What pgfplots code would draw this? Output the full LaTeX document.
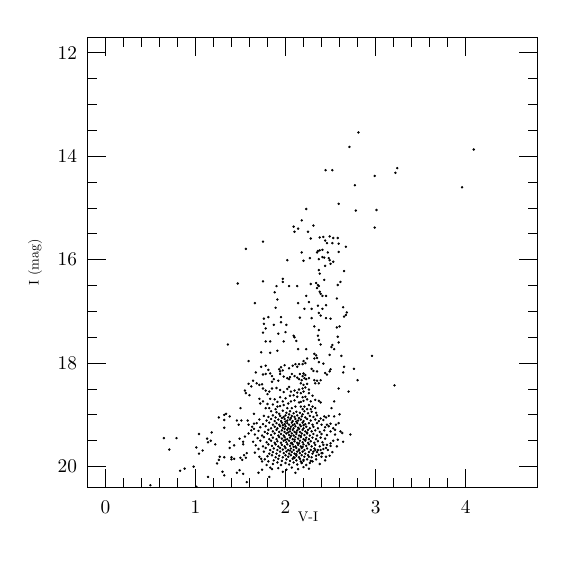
\documentclass[border=0pt]{standalone}
\usepackage{graphicx}
\usepackage{pgfplots}
\pgfplotsset{compat=1.18}
\begin{document}
\begin{tikzpicture}
\path[use as bounding box] (0,0) rectangle (431.25pt,431.25pt);
\begin{axis}[
  at={(65.5pt,65.8pt)}, anchor=south west,
  scale only axis, width=337.8pt, height=337.5pt,
  xmin=-0.2, xmax=4.8, ymin=11.7, ymax=20.4, y dir=reverse,
  xtick={0,1,2,3,4}, ytick={12,14,16,18,20},
  minor x tick num=4, minor y tick num=3,
  tick align=inside, xtick pos=both, ytick pos=both,
  major tick length=13.9pt, minor tick length=7pt,
  axis line style={line width=0.6pt},
  every tick/.style={line width=0.6pt, black},
  tick label style={font=\fontsize{10}{12}\selectfont},
  xticklabel={\scalebox{1.45}{$\pgfmathprintnumber{\tick}$}},
  yticklabel={\scalebox{1.45}{$\pgfmathprintnumber{\tick}$}},
  xticklabel style={yshift=-6.5pt},
  yticklabel style={xshift=-4.2pt},
  xlabel={V-I}, ylabel={I (mag)},
  label style={font=\fontsize{10.5}{12}\selectfont},
  xlabel style={at={(axis description cs:0.49,-0.0444)}, anchor=north},
  ylabel style={at={(axis description cs:-0.090,0.5)}, anchor=south},
]
\addplot[only marks, mark=*, mark size=0.7pt, black] coordinates {
(2.81,13.54) (2.71,13.82) (4.09,13.87) (2.445,14.27) (2.52,14.27) (3.24,14.23) (3.22,14.32) (2.99,14.38) (2.77,14.56) (3.96,14.60)
(2.59,14.92) (2.78,15.05) (3.01,15.04) (2.23,15.02) (2.18,15.24) (2.31,15.34) (2.09,15.36) (2.14,15.40) (2.10,15.46) (2.25,15.46) (2.99,15.38)
(2.28,15.59) (2.38,15.57) (2.42,15.56) (2.49,15.55) (2.53,15.58) (2.58,15.58) (2.44,15.63) (2.46,15.68) (2.52,15.68) (2.59,15.69) (2.67,15.75) (1.75,15.65) (1.56,15.79)
(2.18,15.86) (2.35,15.86) (2.38,15.82) (2.41,15.81) (2.36,15.83) (2.47,15.86) (2.59,15.85) (2.27,15.97) (2.37,15.99) (2.41,15.95) (2.43,15.96) (2.48,15.97) (2.49,16.01) (2.53,16.04) (2.50,16.08) (2.44,16.12) (2.20,16.02) (2.02,16.01)
(2.37,16.20) (2.38,16.27) (2.65,16.22) (2.43,16.39) (2.61,16.43) (2.58,16.49) (1.97,16.37) (1.97,16.43) (1.90,16.51) (2.04,16.51) (2.13,16.51) (2.28,16.47) (2.34,16.45) (2.36,16.49) (2.37,16.51) (2.35,16.55) (2.38,16.62) (2.39,16.66) (1.75,16.42) (1.47,16.46)
(1.88,16.63) (1.91,16.77) (2.23,16.70) (2.41,16.70) (2.45,16.70) (2.57,16.75) (1.66,16.84) (2.14,16.84) (2.26,16.82) (2.45,16.88) (1.89,16.93) (2.21,16.95) (2.29,16.95) (2.36,16.89) (2.41,16.95) (2.64,16.92) (2.68,17.02) (2.67,17.07) (2.65,17.10)
(2.37,17.03) (2.39,17.08) (2.45,17.13) (2.50,17.14) (2.29,17.13) (2.16,17.12)
(1.95,17.11) (1.81,17.11) (1.76,17.14) (1.76,17.24) (1.95,17.21) (2.01,17.26) (1.87,17.26) (1.78,17.33) (1.75,17.41) (1.92,17.43) (2.00,17.40) (2.09,17.47) (2.10,17.50) (2.12,17.57) (1.78,17.58) (1.83,17.58) (1.98,17.58)
(2.32,17.29) (2.37,17.36) (2.36,17.47) (2.37,17.55) (2.39,17.64) (2.52,17.65) (2.51,17.69) (2.57,17.31) (2.60,17.29) (2.58,17.49) (2.59,17.60) (2.14,17.73) (2.23,17.73)
(2.96,17.86) (2.76,18.11) (2.80,18.33) (3.21,18.43) (1.36,17.64)
(1.73,17.79) (1.83,17.80) (1.91,17.76) (1.59,17.96) (1.78,18.05) (1.73,18.07) (1.67,18.18) (1.95,18.08) (1.99,18.04) (2.04,18.10) (2.08,18.05) (2.11,18.02) (2.15,18.02) (2.13,18.07) (1.93,18.12) (1.94,18.16) (1.97,18.14) (1.94,18.21) (1.81,18.13) (1.83,18.20) (1.85,18.25) (1.78,18.21) (1.75,18.22) (1.87,18.31) (1.85,18.36) (1.92,18.34) (1.64,18.34) (1.59,18.40) (1.68,18.39) (1.71,18.42) (1.74,18.41) (1.98,18.26) (2.02,18.29) (2.04,18.31) (2.07,18.21) (2.05,18.27) (2.10,18.25) (2.13,18.28) (2.16,18.21) (2.15,18.31) (1.55,18.53) (1.56,18.58) (1.60,18.62) (1.75,18.49) (1.78,18.53) (1.82,18.55) (1.80,18.60) (1.85,18.49) (1.90,18.48) (1.62,18.45)
(1.94,18.52) (1.98,18.56) (2.02,18.50) (2.04,18.46) (2.06,18.55) (2.10,18.53) (2.13,18.57) (2.15,18.51) (2.09,18.62) (2.13,18.65) (2.05,18.63) (2.00,18.68) (1.94,18.66) (1.97,18.74) (1.91,18.75) (1.88,18.70) (1.83,18.69) (1.86,18.80) (1.80,18.79) (1.75,18.74) (1.72,18.78) (1.78,18.87) (1.82,18.87) (1.91,18.84) (1.94,18.83) (1.98,18.81) (2.03,18.78) (2.06,18.74) (2.10,18.72) (2.15,18.76) (2.17,18.84) (2.11,18.84) (2.07,18.87) (2.02,18.87) (1.89,18.89) (1.71,18.69) (1.50,18.87)
(2.54,17.73) (2.32,17.82) (2.34,17.85) (2.32,17.91) (2.35,17.90) (2.49,17.84) (2.62,17.86) (2.24,17.91) (2.20,17.96) (2.22,18.00) (2.19,18.02) (2.37,17.98) (2.42,18.01) (2.29,18.11) (2.35,18.16) (2.31,18.15) (2.44,18.19) (2.49,18.16) (2.50,18.12) (2.46,18.22) (2.65,18.07) (2.64,18.18)
(2.20,18.20) (2.22,18.23) (2.19,18.25) (2.21,18.29) (2.18,18.33) (2.23,18.31) (2.26,18.29) (2.32,18.33) (2.35,18.34) (2.39,18.33) (2.33,18.39) (2.37,18.39) (2.17,18.39) (2.20,18.42) (2.24,18.40) (2.19,18.49) (2.22,18.47) (2.26,18.51) (2.20,18.55) (2.17,18.58) (2.26,18.58) (2.30,18.63) (2.22,18.65) (2.19,18.66) (2.24,18.70) (2.20,18.73) (2.17,18.75) (2.28,18.74) (2.33,18.71) (2.37,18.73) (2.39,18.76) (2.26,18.81) (2.30,18.84) (2.21,18.84) (2.24,18.89) (2.28,18.89) (2.19,18.89) (2.33,18.87)
(2.59,18.49) (2.70,18.55) (2.54,18.74) (2.51,18.87)
(1.34,18.98) (1.32,19.00) (1.38,19.03) (1.26,19.05) (1.32,19.10) (1.32,19.25) (1.18,19.34) (1.04,19.37) (1.13,19.46) (1.17,19.50) (1.14,19.53) (1.22,19.57) (1.38,19.52) (0.65,19.45) (0.79,19.45) (0.71,19.67) (1.01,19.63) (1.08,19.69) (1.04,19.75) (1.27,19.81) (1.32,19.82) (1.40,19.82) (1.40,19.86) (1.43,19.85) (1.26,19.87) (1.24,19.94) (0.98,20.00) (0.88,20.04) (0.83,20.08) (1.30,20.10) (1.32,20.17) (1.14,20.20) (1.43,19.59) (0.50,20.36) (1.01,20.39)
(1.46,19.11) (1.48,19.19) (1.51,19.11) (1.38,19.64) (1.49,19.46) (1.53,19.57) (1.46,20.12) (1.57,20.30) (1.49,20.07) (1.53,20.14) (1.50,19.83) (1.52,19.87) (1.54,19.78) (1.56,19.83) (1.57,19.74) (1.55,19.42) (1.53,19.52) (1.59,19.19) (1.63,19.23) (1.65,19.27) (1.59,19.36) (1.62,19.30) (1.65,18.98) (1.70,20.12) (1.74,20.06) (1.71,19.81) (1.73,19.85) (1.74,19.90) (1.83,20.02) (1.85,20.05) (1.82,20.20) (1.79,19.97) (1.81,19.90) (1.58,19.11) (1.65,19.17)
(2.39,19.07) (2.43,19.03) (2.45,19.05) (2.48,19.02) (2.54,19.03) (2.60,18.99) (2.46,19.19) (2.50,19.17) (2.56,19.19) (2.59,19.16) (2.53,19.26) (2.55,19.29) (2.61,19.32) (2.63,19.35) (2.72,19.38) (2.64,19.52) (2.58,19.48) (2.50,19.55) (2.57,19.61) (2.46,19.58) (2.45,19.64) (2.39,19.68) (2.45,19.81) (2.41,19.74) (2.37,19.77) (2.33,19.68) (2.31,19.71) (2.30,19.90) (2.26,19.81) (2.20,19.87) (2.18,19.93) (2.17,19.90)
(1.84,18.93) (1.90,18.95) (1.97,18.92) (2.01,18.96) (2.05,18.93) (2.09,18.97) (2.12,18.94) (2.16,18.96) (2.21,18.93) (2.25,18.97) (2.29,18.94) (2.34,18.96) (1.93,18.98) (2.19,18.99) (2.04,18.99)
(1.76,19.02) (1.81,19.04) (1.86,19.01) (1.89,19.05) (1.94,19.02) (1.98,19.04) (2.00,19.01) (2.03,19.05) (2.07,19.02) (2.10,19.04) (2.13,19.01) (2.15,19.06) (2.18,19.03) (2.22,19.05) (2.27,19.02) (2.31,19.04) (2.35,19.01) (2.06,19.06) (1.96,19.06)
(1.71,19.09) (1.79,19.11) (1.84,19.08) (1.88,19.12) (1.92,19.09) (1.95,19.12) (1.99,19.08) (2.02,19.11) (2.05,19.09) (2.08,19.12) (2.11,19.08) (2.14,19.11) (2.17,19.09) (2.20,19.12) (2.24,19.08) (2.28,19.11) (2.33,19.09) (2.37,19.12) (2.42,19.10) (2.00,19.13) (2.12,19.13)
(1.68,19.16) (1.75,19.18) (1.82,19.15) (1.86,19.19) (1.90,19.16) (1.93,19.19) (1.96,19.15) (1.99,19.18) (2.02,19.16) (2.04,19.19) (2.07,19.15) (2.10,19.18) (2.13,19.16) (2.16,19.19) (2.19,19.15) (2.22,19.18) (2.26,19.16) (2.30,19.19) (2.35,19.16) (2.40,19.19) (2.08,19.20) (1.97,19.20) (2.20,19.20)
(1.72,19.24) (1.78,19.22) (1.84,19.26) (1.88,19.23) (1.91,19.26) (1.94,19.22) (1.97,19.25) (2.00,19.22) (2.03,19.26) (2.06,19.23) (2.09,19.26) (2.11,19.22) (2.14,19.25) (2.17,19.22) (2.20,19.26) (2.23,19.23) (2.27,19.26) (2.31,19.23) (2.36,19.26) (2.44,19.24) (2.48,19.22) (2.05,19.27) (2.15,19.27) (1.99,19.27)
(1.70,19.31) (1.77,19.33) (1.81,19.29) (1.86,19.32) (1.90,19.29) (1.93,19.33) (1.96,19.30) (1.99,19.33) (2.02,19.29) (2.05,19.32) (2.08,19.29) (2.10,19.33) (2.13,19.30) (2.16,19.33) (2.19,19.29) (2.22,19.32) (2.25,19.29) (2.29,19.32) (2.33,19.30) (2.38,19.33) (2.43,19.30) (2.50,19.32) (2.12,19.34) (2.03,19.34) (2.24,19.34)
(1.66,19.38) (1.74,19.40) (1.80,19.36) (1.84,19.39) (1.88,19.36) (1.92,19.40) (1.95,19.37) (1.98,19.40) (2.01,19.36) (2.04,19.39) (2.07,19.36) (2.09,19.40) (2.12,19.37) (2.15,19.40) (2.18,19.36) (2.21,19.39) (2.24,19.36) (2.27,19.40) (2.31,19.37) (2.35,19.40) (2.40,19.37) (2.46,19.39) (2.55,19.38) (2.06,19.41) (2.17,19.41)
(1.69,19.45) (1.76,19.43) (1.82,19.47) (1.86,19.44) (1.90,19.47) (1.93,19.43) (1.96,19.46) (1.99,19.43) (2.02,19.47) (2.05,19.44) (2.08,19.47) (2.11,19.43) (2.14,19.46) (2.17,19.43) (2.20,19.47) (2.23,19.44) (2.26,19.47) (2.30,19.44) (2.34,19.47) (2.39,19.44) (2.44,19.46) (2.10,19.48) (2.00,19.48) (2.22,19.48)
(1.64,19.52) (1.72,19.50) (1.79,19.53) (1.84,19.50) (1.88,19.54) (1.91,19.51) (1.95,19.54) (1.98,19.50) (2.01,19.53) (2.04,19.50) (2.07,19.54) (2.10,19.51) (2.13,19.54) (2.16,19.50) (2.19,19.53) (2.22,19.50) (2.25,19.54) (2.28,19.51) (2.32,19.54) (2.36,19.51) (2.41,19.53) (2.53,19.50) (2.15,19.55) (2.06,19.55)
(1.67,19.59) (1.75,19.61) (1.81,19.57) (1.85,19.60) (1.89,19.57) (1.92,19.61) (1.96,19.58) (1.99,19.61) (2.02,19.57) (2.05,19.60) (2.08,19.57) (2.11,19.61) (2.14,19.58) (2.17,19.61) (2.20,19.57) (2.23,19.60) (2.26,19.57) (2.29,19.61) (2.33,19.58) (2.38,19.61) (2.42,19.58) (2.50,19.60) (2.09,19.62) (2.19,19.62)
(1.70,19.66) (1.78,19.64) (1.83,19.68) (1.87,19.65) (1.91,19.68) (1.94,19.64) (1.97,19.67) (2.00,19.64) (2.03,19.68) (2.06,19.65) (2.09,19.68) (2.12,19.64) (2.15,19.67) (2.18,19.64) (2.21,19.68) (2.24,19.65) (2.28,19.68) (2.32,19.65) (2.36,19.68) (2.42,19.66) (2.47,19.68) (2.05,19.69) (2.15,19.69)
(1.66,19.73) (1.76,19.71) (1.82,19.75) (1.86,19.72) (1.90,19.75) (1.94,19.71) (1.98,19.74) (2.01,19.71) (2.04,19.75) (2.07,19.72) (2.10,19.75) (2.13,19.71) (2.16,19.74) (2.19,19.71) (2.22,19.75) (2.26,19.72) (2.30,19.75) (2.35,19.72) (2.40,19.74) (2.52,19.72) (2.12,19.76)
(1.80,19.80) (1.85,19.78) (1.89,19.82) (1.93,19.79) (1.97,19.82) (2.00,19.78) (2.03,19.81) (2.06,19.78) (2.09,19.82) (2.12,19.79) (2.15,19.82) (2.18,19.78) (2.21,19.81) (2.25,19.78) (2.29,19.82) (2.34,19.79) (2.40,19.81) (2.49,19.79) (2.10,19.83)
(1.77,19.86) (1.87,19.88) (1.92,19.85) (1.96,19.89) (2.01,19.86) (2.05,19.89) (2.08,19.85) (2.12,19.88) (2.16,19.85) (2.20,19.89) (2.24,19.86) (2.28,19.89) (2.34,19.86) (2.44,19.88)
(1.86,19.95) (1.91,19.92) (1.95,19.97) (2.00,19.93) (2.04,19.96) (2.09,19.92) (2.13,19.96) (2.18,19.93) (2.23,19.97) (2.27,19.93) (2.38,19.95)
(1.92,20.03) (2.01,20.06) (2.07,20.02) (2.14,20.05) (2.20,20.01) (2.26,20.04) (1.97,20.10) (2.11,20.12)
};
\end{axis}
\end{tikzpicture}
\end{document}
